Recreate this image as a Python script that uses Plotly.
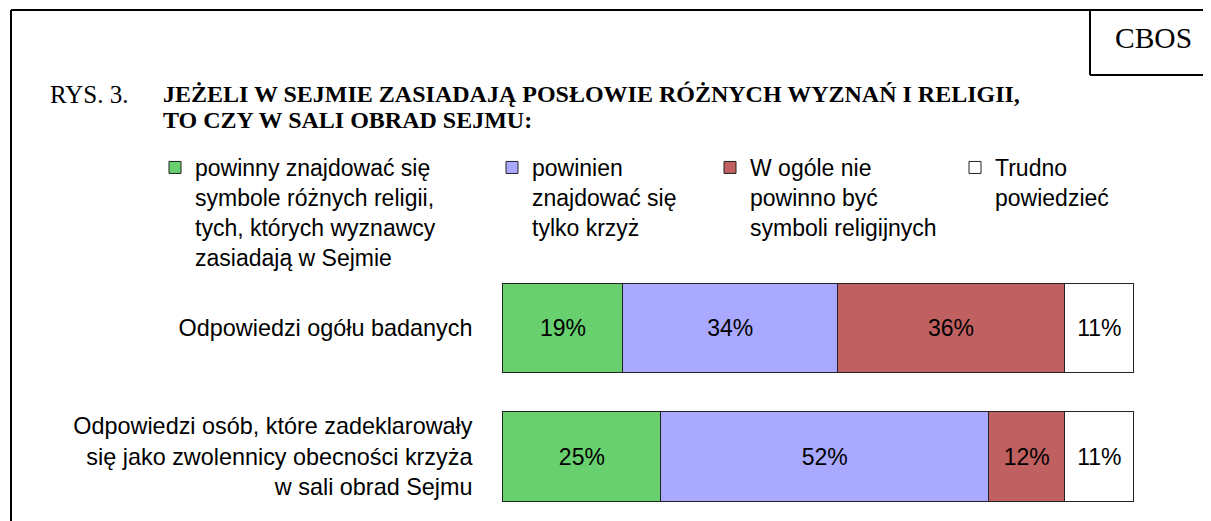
import plotly.graph_objects as go

# ---------------- data ----------------
categories = [
    "Odpowiedzi ogółu badanych",
    "Odpowiedzi osób, które zadeklarowały<br>się jako zwolennicy obecności krzyża<br>w sali obrad Sejmu",
]
series_names = [
    "powinny znajdować się<br>symbole różnych religii,<br>tych, których wyznawcy<br>zasiadają w Sejmie",
    "powinien<br>znajdować się<br>tylko krzyż",
    "W ogóle nie<br>powinno być<br>symboli religijnych",
    "Trudno<br>powiedzieć",
]
symbole_roznych_religii = [19, 25]
tylko_krzyz = [34, 52]
brak_symboli = [36, 12]
trudno_powiedziec = [11, 11]

title_label = "RYS. 3."
title_lines = [
    "JEŻELI W SEJMIE ZASIADAJĄ POSŁOWIE RÓŻNYCH WYZNAŃ I RELIGII,",
    "TO CZY W SALI OBRAD SEJMU:",
]
brand = "CBOS"

# ---------------- layout helpers ----------------
W, H = 1211, 521          # browser window
OFF = 8                   # page body margin
FW, FH = W - OFF, H - OFF # figure size


def px(x):
    return (x - OFF) / FW


def py(y):
    return 1 - (y - OFF) / FH


SANS = "Liberation Sans, Arial, sans-serif"
SERIF = "Liberation Serif, Times New Roman, serif"
colors = ["#69D070", "#A9A9FF", "#C06060", "#FFFFFF"]
values = [symbole_roznych_religii, tylko_krzyz, brak_symboli, trudno_powiedziec]
legend_ids = ["legend", "legend2", "legend3", "legend4"]
legend_text_x = [195, 532, 750, 995]

fig = go.Figure()
for name, vals, col, lg in zip(series_names, values, colors, legend_ids):
    fig.add_trace(go.Bar(
        y=categories, x=vals, name=name, orientation="h",
        marker=dict(color=col, line=dict(color="#222222", width=1)),
        texttemplate="%{x}%", textposition="inside", insidetextanchor="middle",
        textangle=0, insidetextfont=dict(color="black", size=23, family=SANS),
        constraintext="none", legend=lg, hoverinfo="skip",
    ))

legend_common = dict(
    orientation="v", xanchor="left", yanchor="top", valign="top",
    bgcolor="rgba(0,0,0,0)", font=dict(family=SANS, size=23, color="black"),
    itemwidth=30,
)
layout_legends = {}
for lg, tx in zip(legend_ids, legend_text_x):
    layout_legends[lg] = dict(x=px(tx - 40), y=py(146), **legend_common)

# x axis: 0..100 maps to pixels 503..1134, small padding so outlines are not clipped
PAD = 0.4
unit = (1134 - 503) / 100.0
fig.update_layout(
    width=FW, height=FH,
    margin=dict(l=0, r=0, t=0, b=0),
    paper_bgcolor="white", plot_bgcolor="white",
    barmode="stack", bargap=0.3,
    showlegend=True,
    xaxis=dict(domain=[px(503 - PAD * unit), px(1134 + PAD * unit)],
               range=[-PAD, 100 + PAD], visible=False, fixedrange=True),
    yaxis=dict(domain=[max(0, py(520.75)), py(263.75)], autorange="reversed",
               showgrid=False, zeroline=False, showline=False, ticks="",
               ticklabelstandoff=27, automargin=False,
               tickfont=dict(family=SANS, size=23.4, color="black")),
    **layout_legends,
)

# frame lines
line_style = dict(color="black", width=2)
for (x0, y0, x1, y1) in [(11, 10, 11, H), (11, 10, W, 10), (1090, 10, 1090, 75), (1090, 75, W, 75)]:
    fig.add_shape(type="line", xref="paper", yref="paper",
                  x0=px(x0), y0=py(y0), x1=px(x1), y1=py(y1), line=line_style)

fig.add_annotation(text=brand, xref="paper", yref="paper", x=px(1153), y=py(38),
                   xanchor="center", yanchor="middle", showarrow=False,
                   font=dict(family=SERIF, size=29.5, color="black"))
fig.add_annotation(text=title_label, xref="paper", yref="paper", x=px(48), y=py(94),
                   xanchor="left", yanchor="middle", showarrow=False,
                   font=dict(family=SERIF, size=25, color="black"))
for line, yc in zip(title_lines, [94, 120]):
    fig.add_annotation(text="<b>" + line + "</b>",
                       xref="paper", yref="paper", x=px(161), y=py(yc),
                       xanchor="left", yanchor="middle", align="left", showarrow=False,
                       font=dict(family=SERIF, size=24, color="black"))

fig.write_html("out.html")
